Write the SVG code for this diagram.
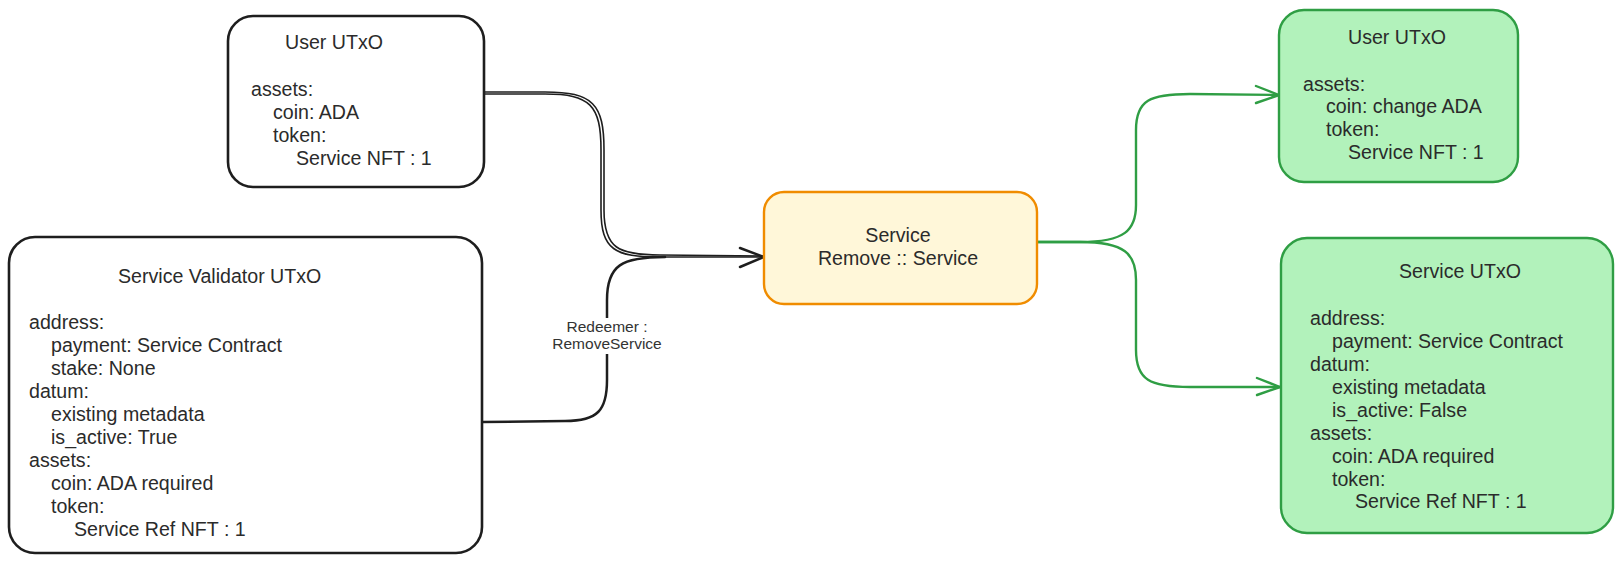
<svg xmlns="http://www.w3.org/2000/svg" width="1621" height="562" viewBox="0 0 1621 562">
<style>
  .t { font-family: "Liberation Sans", Arial, sans-serif; font-size: 19.6px; fill: #2b2b2b; }
  .lbl { font-family: "Liberation Sans", Arial, sans-serif; font-size: 15.5px; fill: #333; text-anchor: middle; }
  .box { fill: #ffffff; stroke: #1e1e1e; stroke-width: 2.6; }
  .gbox { fill: #b2f2bb; stroke: #2f9e44; stroke-width: 2.4; }
  .obox { fill: #fff7d9; stroke: #f08c00; stroke-width: 2.4; }
  .blk { fill: none; stroke: #1e1e1e; stroke-width: 2.5; stroke-linecap: round; stroke-linejoin: round; }
  .blk2 { fill: none; stroke: #1e1e1e; stroke-width: 1.6; stroke-linecap: round; }
  .grn { fill: none; stroke: #2f9e44; stroke-width: 2.4; stroke-linecap: round; stroke-linejoin: round; }
</style>
<rect width="1621" height="562" fill="#ffffff"/>

<g id="connectors">
  <path class="blk2" d="M484,94 L545,94 C590,94 601,105 601,150 L601,210 C601,250 615,257 660,257 L763,257"/>
  <path class="blk2" d="M484,92 L545,92 C593,92 604,104 604,150 L604,210 C604,248 618,255 660,255 L763,256"/>
  <path class="blk" d="M482,422 L565,421 C598,421 607,410 607,380 L607,300 C607,265 622,257 665,257"/>
  <path class="blk" d="M740,248 L764,257 L740,267"/>
  <rect x="550" y="318" width="114" height="36" fill="#ffffff"/>
  <text class="lbl" x="607" y="332">Redeemer :</text>
  <text class="lbl" x="607" y="349">RemoveService</text>

  <path class="grn" d="M1037,242 L1080,242 C1125,242 1136,230 1136,205 L1136,130 C1136,100 1150,94 1190,94 L1279,95"/>
  <path class="grn" d="M1037,242 L1080,242 C1125,242 1136,254 1136,280 L1136,350 C1136,380 1150,387 1190,387 L1280,387"/>
  <path class="grn" d="M1256,86 L1279,95 L1256,103"/>
  <path class="grn" d="M1257,378 L1280,387 L1257,395"/>
</g>

<g id="user-utxo-in">
  <rect class="box" x="228" y="16" width="256" height="171" rx="25"/>
  <text class="t" x="285" y="49">User UTxO</text>
  <text class="t" x="251" y="96">assets:</text>
  <text class="t" x="273" y="119">coin: ADA</text>
  <text class="t" x="273" y="142">token:</text>
  <text class="t" x="296" y="165">Service NFT : 1</text>
</g>

<g id="service-validator-utxo">
  <rect class="box" x="9" y="237" width="473" height="316" rx="26"/>
  <text class="t" x="118" y="283">Service Validator UTxO</text>
  <text class="t" x="29" y="329">address:</text>
  <text class="t" x="51" y="352">payment: Service Contract</text>
  <text class="t" x="51" y="375">stake: None</text>
  <text class="t" x="29" y="398">datum:</text>
  <text class="t" x="51" y="421">existing metadata</text>
  <text class="t" x="51" y="444">is_active: True</text>
  <text class="t" x="29" y="467">assets:</text>
  <text class="t" x="51" y="490">coin: ADA required</text>
  <text class="t" x="51" y="513">token:</text>
  <text class="t" x="74" y="536">Service Ref NFT : 1</text>
</g>

<g id="service-remove">
  <rect class="obox" x="764" y="192" width="273" height="112" rx="20"/>
  <text class="t" x="898" y="242" text-anchor="middle">Service</text>
  <text class="t" x="898" y="265" text-anchor="middle">Remove :: Service</text>
</g>

<g id="user-utxo-out">
  <rect class="gbox" x="1279" y="10" width="239" height="172" rx="25"/>
  <text class="t" x="1348" y="44">User UTxO</text>
  <text class="t" x="1303" y="91">assets:</text>
  <text class="t" x="1326" y="113">coin: change ADA</text>
  <text class="t" x="1326" y="136">token:</text>
  <text class="t" x="1348" y="159">Service NFT : 1</text>
</g>

<g id="service-utxo-out">
  <rect class="gbox" x="1281" y="238" width="332" height="295" rx="26"/>
  <text class="t" x="1399" y="278">Service UTxO</text>
  <text class="t" x="1310" y="325">address:</text>
  <text class="t" x="1332" y="348">payment: Service Contract</text>
  <text class="t" x="1310" y="371">datum:</text>
  <text class="t" x="1332" y="394">existing metadata</text>
  <text class="t" x="1332" y="417">is_active: False</text>
  <text class="t" x="1310" y="440">assets:</text>
  <text class="t" x="1332" y="463">coin: ADA required</text>
  <text class="t" x="1332" y="486">token:</text>
  <text class="t" x="1355" y="508">Service Ref NFT : 1</text>
</g>
</svg>
